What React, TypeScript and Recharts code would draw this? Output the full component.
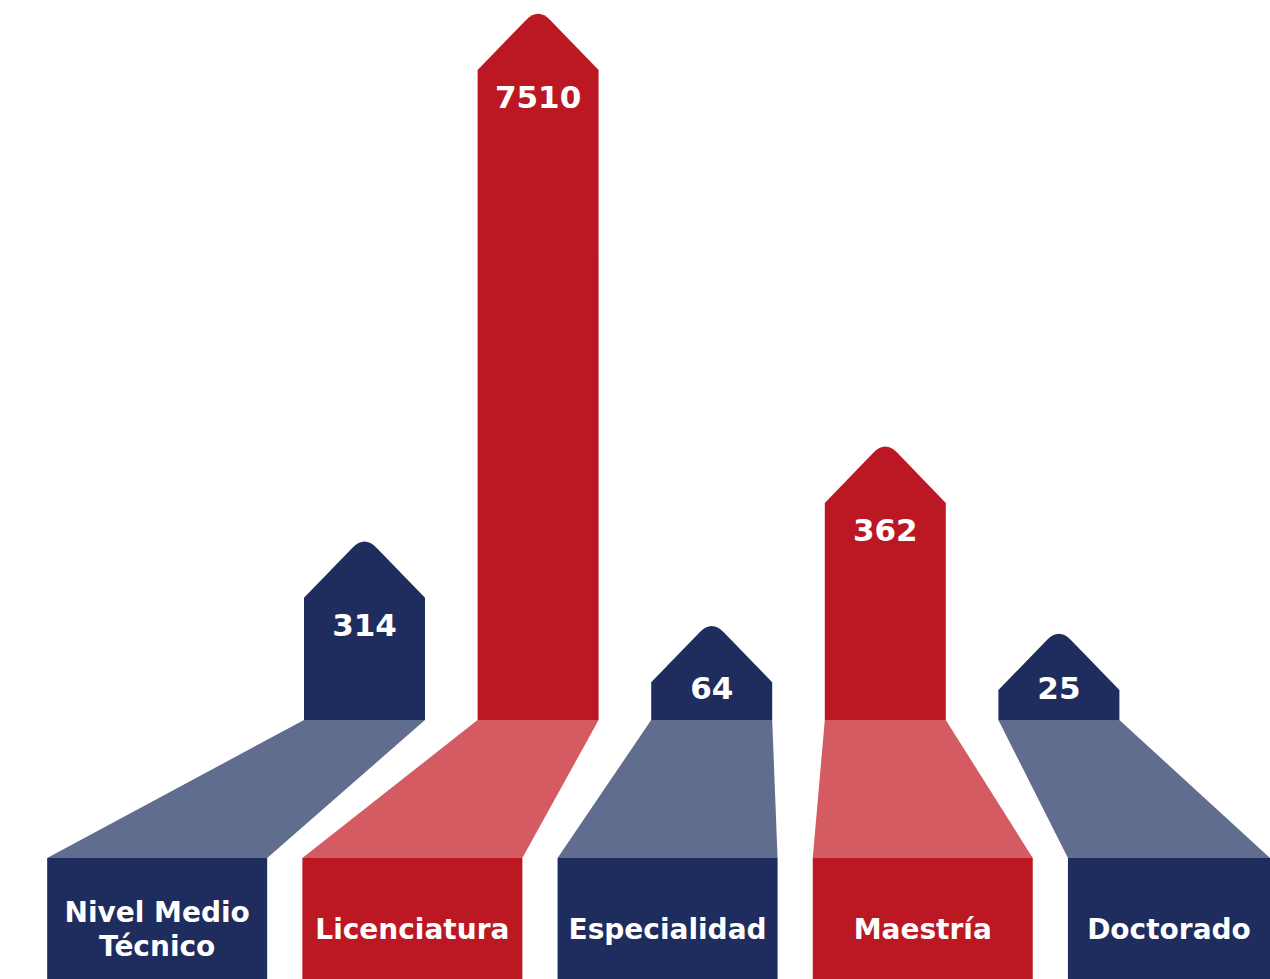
import { BarChart, Bar, XAxis, YAxis, LabelList } from "recharts";

// niveles de estudio
const categories = ["Nivel Medio Técnico", "Licenciatura", "Especialidad", "Maestría", "Doctorado"];
const labelLines = [["Nivel Medio", "Técnico"], ["Licenciatura"], ["Especialidad"], ["Maestría"], ["Doctorado"]];
// cifras mostradas
const values = [314, 7510, 64, 362, 25];
// altura de cada barra tal como aparece (en % de la más alta)
const drawnHeights = [18.8, 100, 5.8, 33.4, 4.6];

const data = categories.map((name, i) => ({
  name,
  value: values[i],
  level: drawnHeights[i],
}));

const W = 1270;
const H = 979;
const NAVY = "#1f2d5e";
const RED = "#bc1823";
const NAVY_LIGHT = "#616d8e";
const RED_LIGHT = "#d35b61";
const FONT = "'DejaVu Sans', sans-serif";

const dark = (i: number) => (i % 2 === 0 ? NAVY : RED);
const light = (i: number) => (i % 2 === 0 ? NAVY_LIGHT : RED_LIGHT);

// the name tiles fan out from the bars
const tileFor = (cx: number) => {
  const c = 668 + (cx - 712) * 1.47;
  return { left: Math.max(0, c - 110), right: Math.min(W, c + 110) };
};

const HouseBar = (props: any) => {
  const { x, y, width, height, index } = props;
  const cx = x + width / 2;
  const base = y + height;
  const peak = width / 2 + 2;
  const d = 12;
  const slope = peak / (width / 2);
  const house = `M${x},${base} L${x},${y} L${cx - d},${y - peak + d * slope} Q${cx},${y - peak} ${cx + d},${y - peak + d * slope} L${x + width},${y} L${x + width},${base} Z`;
  const tileTop = base + 138;
  const { left, right } = tileFor(cx);
  const lines = labelLines[index];
  const midY = tileTop + 81;
  return (
    <g>
      <path d={house} fill={dark(index)} />
      <path
        d={`M${x},${base} L${x + width},${base} L${right},${tileTop} L${left},${tileTop} Z`}
        fill={light(index)}
      />
      <rect x={left} y={tileTop} width={right - left} height={H - tileTop} fill={dark(index)} />
      <clipPath id={`tile-${index}`}>
        <rect x={left} y={tileTop} width={right - left} height={H - tileTop} />
      </clipPath>
      <text
        x={(left + right) / 2}
        textAnchor="middle"
        fill="#fff"
        fontFamily={FONT}
        fontWeight={700}
        fontSize={28}
        clipPath={`url(#tile-${index})`}
      >
        {lines.map((ln, k) => (
          <tspan key={k} x={(left + right) / 2} y={midY + (k - (lines.length - 1) / 2) * 34}>
            {ln}
          </tspan>
        ))}
      </text>
    </g>
  );
};

const ValueLabel = (props: any) => {
  const { x, y, width, height, value } = props;
  const base = y + height;
  const cy = Math.min(y + 27, base - 32);
  return (
    <text
      x={x + width / 2}
      y={cy}
      textAnchor="middle"
      dominantBaseline="central"
      fill="#fff"
      fontFamily={FONT}
      fontWeight={700}
      fontSize={31}
    >
      {value}
    </text>
  );
};

export default function App() {
  return (
    <div style={{ position: "absolute", left: 0, top: 0, width: W, height: H, background: "#fff" }}>
      <BarChart
        width={W}
        height={H}
        data={data}
        margin={{ top: 70, right: 124, bottom: 259, left: 278 }}
      >
        <XAxis dataKey="name" hide />
        <YAxis hide domain={[0, 100]} />
        <Bar dataKey="level" barSize={121} shape={HouseBar} isAnimationActive={false}>
          <LabelList dataKey="value" content={ValueLabel} />
        </Bar>
      </BarChart>
    </div>
  );
}
